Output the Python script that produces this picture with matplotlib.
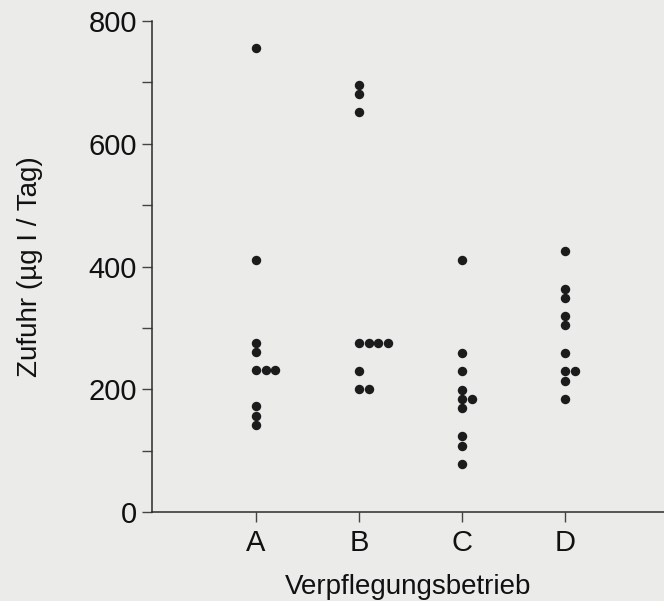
import matplotlib.pyplot as plt
from collections import Counter

# Jodzufuhr je Verpflegungsbetrieb (µg I / Tag)
betriebe = ['A', 'B', 'C', 'D']
zufuhr_a = [756, 411, 276, 260, 231, 231, 231, 172, 157, 142]
zufuhr_b = [696, 681, 651, 275, 275, 275, 275, 230, 200, 200]
zufuhr_c = [410, 259, 229, 199, 184, 184, 169, 124, 108, 79]
zufuhr_d = [425, 364, 349, 319, 304, 259, 229, 229, 214, 184]
y_ticks = [0, 200, 400, 600, 800]

plt.rcParams['font.family'] = ['Liberation Sans', 'DejaVu Sans']

fig = plt.figure(figsize=(6.64, 6.01), dpi=100, facecolor='#ebebea')
ax = fig.add_axes([0.2285, 0.148, 0.7715, 0.817])
ax.set_facecolor('#ebebea')

step = 0.094  # side-by-side shift for equal values
for i, werte in enumerate([zufuhr_a, zufuhr_b, zufuhr_c, zufuhr_d]):
    seen = Counter()
    xs = []
    for v in werte:
        xs.append(i + seen[v] * step)
        seen[v] += 1
    ax.plot(xs, werte, 'o', color='#1c1c1c', markersize=6.8, markeredgewidth=0)

ax.set_xlim(-1.01, 3.96)
ax.set_ylim(0, 800)
ax.set_xticks(range(len(betriebe)))
ax.set_xticklabels(betriebe)
ax.set_yticks(y_ticks)
ax.set_yticks(range(0, 801, 100), minor=True)

for s in ['top', 'right']:
    ax.spines[s].set_visible(False)
for s in ['left', 'bottom']:
    ax.spines[s].set_linewidth(1.1)
    ax.spines[s].set_color('#2a2a2a')

ax.tick_params(axis='both', which='both', direction='out', length=7.2,
               width=1.0, color='#444444', labelsize=21, labelcolor='#111111')
ax.tick_params(axis='x', pad=5)
ax.tick_params(axis='y', pad=3.5)

ax.set_xlabel('Verpflegungsbetrieb', fontsize=20, color='#111111', labelpad=12)
ax.set_ylabel('Zufuhr (µg I / Tag)', fontsize=20, color='#111111', labelpad=33)

fig.savefig('out.png', dpi=100, facecolor=fig.get_facecolor())
